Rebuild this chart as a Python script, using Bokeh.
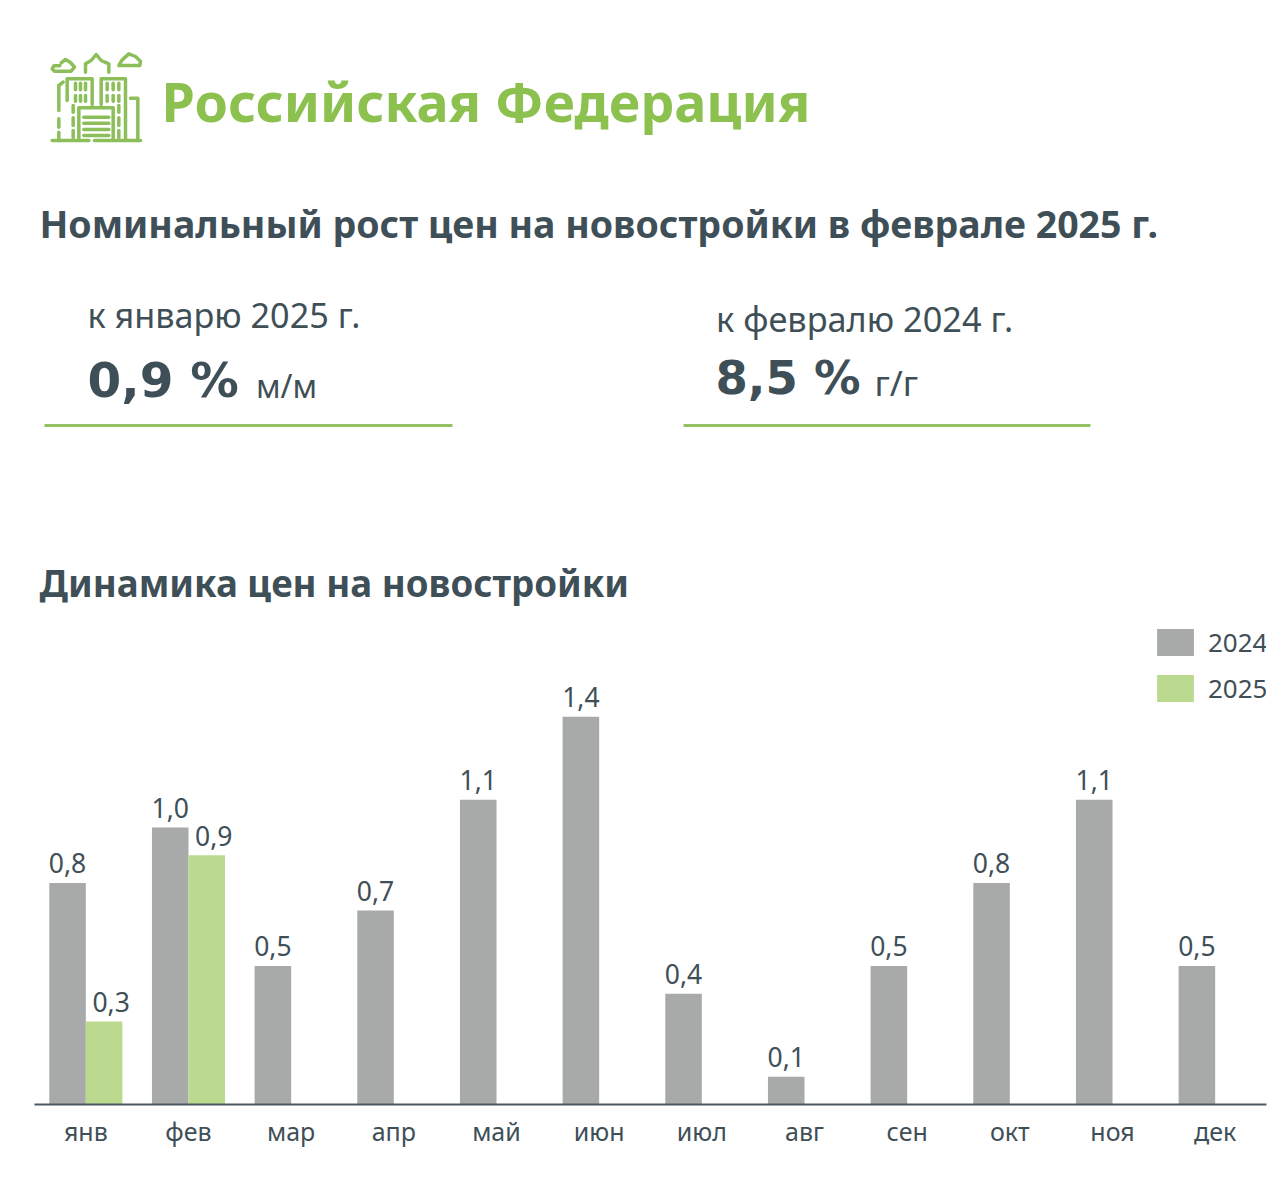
from bokeh.plotting import figure
from bokeh.models import Range1d, FactorRange, ColumnDataSource, Legend, LegendItem
from bokeh.layouts import column
from bokeh.core.properties import value
from bokeh.transform import dodge
from bokeh.embed import file_html
from bokeh.resources import INLINE

months = ["янв","фев","мар","апр","май","июн","июл","авг","сен","окт","ноя","дек"]
v2024 = [0.8,1.0,0.5,0.7,1.1,1.4,0.4,0.1,0.5,0.8,1.1,0.5]
months_2025 = ["янв","фев"]
v2025 = [0.3,0.9]
title_main = "Российская Федерация"
title_sub = "Номинальный рост цен на новостройки в феврале 2025 г."
title_chart = "Динамика цен на новостройки"

DARK="#3F4F57"; GREEN="#8CC04F"; GREY="#A7AAA9"; LGREEN="#BBDA90"
REG="Noto Sans"; BOLD="Noto Sans"; NUM="DejaVu Sans"

h = figure(width=1272,height=620,x_range=Range1d(34,1266),y_range=Range1d(620,0),
           output_backend="svg",toolbar_location=None,min_border_left=34,min_border_right=6,
           min_border_top=0,min_border_bottom=0,outline_line_color=None)
h.axis.visible=False; h.grid.visible=False

def txt(x,y,t,size,color=DARK,font=REG,style="normal"):
    h.text([x],[y-0.4*size],text=[t],text_font=value(font),text_font_size=f"{size}px",text_color=color,
           text_font_style=style,text_baseline="alphabetic",text_align="left")
txt(161,122,title_main,53.8,GREEN,BOLD,"bold")
txt(39,238,title_sub,37.5,DARK,BOLD,"bold")
txt(87,328,"к январю 2025 г.",34.2)
txt(87,399,"0,9 %",48.5,DARK,NUM,"bold")
txt(255.5,398,"м/м",32)
txt(715.5,332,"к февралю 2024 г.",34.3)
txt(715,396,"8,5 %",46.5,DARK,NUM,"bold")
txt(874,396,"г/г",35)
txt(39,597,title_chart,36.7,DARK,BOLD,"bold")
h.segment([44,683],[425,425],[452,1090],[425,425],line_color="#93C161",line_width=3)

# building icon
z=[
 [(65,330),(175,330)],[(192,330),(330,330)],
 [(88,106),(70,106),(65,115),(72,122),(122,122),(132,110),(120,96),(105,87),(92,97)],
 [(165,125),(165,100),(182,90),(197,72),(212,90),(235,100),(235,125)],
 [(265,105),(275,88),(295,70),(315,78),(330,92),(328,105),(265,105)],
 [(110,210),(110,145),(185,145),(185,222)],[(212,222),(212,145),(285,145),(285,330)],
 [(145,330),(145,232),(248,232),(248,330)],
 [(160,260),(235,260)],[(160,278),(235,278)],[(160,297),(235,297)],[(160,315),(235,315)],
 [(98,155),(85,165),(85,240)],[(85,265),(85,290)],[(85,305),(85,330)],
 [(300,203),(322,203),(322,330)],
 [(135,158),(135,178)],[(150,158),(150,178)],[(165,158),(165,178)],
 [(135,195),(135,212)],[(150,195),(150,212)],[(165,195),(165,212)],
 [(230,158),(230,178)],[(248,158),(248,178)],[(265,158),(265,178)],
 [(230,195),(230,212)],[(248,195),(248,212)],[(265,195),(265,212)],
 [(128,225),(128,245)],[(128,262),(128,285)],[(128,300),(128,322)],
 [(265,225),(265,245)],[(265,262),(265,285)],[(265,300),(265,322)],
]
h.multi_line([[30+p[0]/3 for p in s] for s in z],[[30+p[1]/3 for p in s] for s in z],
             line_color="#8CBF5A",line_width=3.5,line_cap="round",line_join="round")

p = figure(width=1272,height=557,x_range=FactorRange(*months,range_padding=0,factor_padding=0),
           y_range=Range1d(0,484/277),output_backend="svg",toolbar_location=None,
           min_border_left=34,min_border_right=6,min_border_top=0,min_border_bottom=73,outline_line_color=None)
p.yaxis.visible=False; p.grid.visible=False
ax=p.xaxis[0]
ax.axis_line_color="#4A5A62"; ax.axis_line_width=2
ax.major_tick_line_color=None; ax.minor_tick_line_color=None
ax.major_label_text_font=REG; ax.major_label_text_font_size="25px"
ax.major_label_text_color=DARK; ax.major_label_standoff=3

s24=ColumnDataSource(dict(x=months,y=v2024,t=[f"{v:.1f}".replace(".",",") for v in v2024]))
s25=ColumnDataSource(dict(x=months_2025,y=v2025,t=[f"{v:.1f}".replace(".",",") for v in v2025]))
W=0.356
b24=p.vbar(x=dodge("x",-0.178,range=p.x_range),top="y",width=W,source=s24,color=GREY,line_color=None)
b25=p.vbar(x=dodge("x",0.178,range=p.x_range),top="y",width=W,source=s25,color=LGREEN,line_color=None)
for src,d in ((s24,-0.178),(s25,0.246)):
    p.text(x=dodge("x",d,range=p.x_range),y=dodge("y",19.6/277),text="t",source=src,text_font=value(REG),
           text_font_size="26.5px",text_color=DARK,text_align="center",text_baseline="alphabetic")

lg=Legend(items=[LegendItem(label="2024",renderers=[b24]),LegendItem(label="2025",renderers=[b25])],
          location=(1118,398),orientation="vertical",glyph_width=46,glyph_height=34,spacing=10,padding=0,margin=0,
          label_text_font=REG,label_text_font_size="26px",label_text_color=DARK,label_standoff=10,
          background_fill_alpha=0,border_line_color=None)
p.add_layout(lg,"center")

page=column(h,p,spacing=0)
open("out.html","w").write(file_html(page,INLINE))
